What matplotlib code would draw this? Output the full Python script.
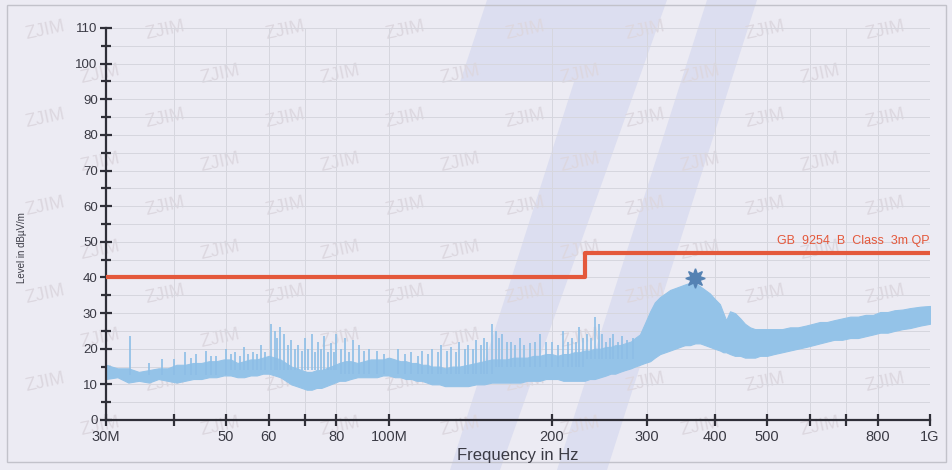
"""
EMC radiated emission scan (30 MHz - 1 GHz) with GB 9254 class B limit
"""
import numpy as np
import matplotlib
matplotlib.use("Agg")
from matplotlib import pyplot as plt
from matplotlib.patches import Polygon, Rectangle
from matplotlib.ticker import NullLocator, MultipleLocator

plt.rcParams['font.family'] = ['Liberation Sans', 'DejaVu Sans']

# scan band: lower / upper envelope of the trace [MHz, dBuV/m]
band_freq = [30, 31.5, 33, 34.5, 36, 37.5, 39, 40.5, 42, 43.5, 45, 46.5, 48, 49.5, 51, 52.5, 54,
             55.5, 57, 58.5, 60, 61.5, 63, 64.5, 66, 67.5, 69, 70.5, 72, 73.5, 75, 76.5, 78, 79.5,
             81, 83, 85, 87.5, 90, 92.5, 95, 97.5, 100, 102.5, 105, 107.5, 110, 112.5, 115, 117.5,
             120, 124, 127, 131, 135, 140, 145, 150, 155, 160, 165, 170, 175, 180, 185, 190, 195,
             200, 205, 210, 215, 220, 225, 230, 235, 240, 246, 252, 257, 262, 267, 273, 280, 285,
             291, 297, 304, 310, 317, 324, 331, 338, 345, 352, 360, 368, 376, 384, 392, 400, 409,
             415, 420, 427, 436, 446, 455, 465, 475, 485, 500, 515, 533, 551, 570, 590, 608, 626,
             645, 665, 688, 712, 736, 760, 785, 809, 835, 860, 890, 919, 960, 1000]
band_low = [11.5, 12, 10.5, 11, 10.5, 11.5, 11, 10.5, 11, 11.5, 11.5, 12, 12, 12.5, 12.5, 12, 12,
            12.5, 12.5, 13, 13, 12.5, 12, 11, 10, 9.5, 9, 8.5, 8.5, 9, 9, 9.5, 10, 10.5,
            11, 11, 11.5, 12, 12, 12, 12, 12.5, 12.5, 12, 12, 11.5, 11.5, 11, 11, 10.5,
            10, 10, 9.5, 9.5, 9.5, 9.5, 10, 10, 10.5, 10.5, 10.5, 10.5, 10.5, 11, 11, 11, 11.5,
            11.5, 11.5, 11, 11, 11, 11, 11, 11.5, 11.5, 12, 12.5, 13, 13, 13.5, 14, 14.5, 15,
            15.5, 16, 16.5, 17.5, 18.5, 19, 19.5, 20, 20.5, 21, 21, 21.5, 21.5, 21, 20.5, 20, 19.5,
            19, 19, 18.5, 18, 18, 17.5, 17.5, 17.5, 18, 18, 18.5, 19, 19.5, 20, 20.5, 21, 21.5,
            22, 22.5, 22.5, 23, 23, 23.5, 24, 24.5, 24.5, 25, 25.5, 25.8, 26.5, 27]
band_high = [15.5, 14.5, 14.5, 13.5, 14, 14.5, 14.5, 15.5, 15.5, 16, 16, 16.5, 16.5, 17, 17, 16, 16.5,
             17, 17, 17.5, 18, 17.5, 17, 16, 15, 14.5, 14, 13.5, 13.5, 14, 14, 14.5, 15, 15.5,
             16, 16.5, 16.5, 16, 16.5, 17, 17, 17, 17.5, 17, 16.5, 16.5, 16, 16, 15.5, 15.5,
             15, 15, 14.5, 15, 15, 15.5, 16, 16.5, 17, 17, 17, 17.5, 17.5, 17.5, 18, 18, 18.5,
             18.5, 18, 18.5, 18.5, 19, 19, 19.5, 19.5, 20, 20, 20.5, 20.5, 21, 21, 21.5, 22, 23,
             24, 27, 30.5, 33, 34.5, 35.5, 36.5, 37, 37.5, 38, 38.5, 38.5, 37.5, 36.5, 35.5, 34, 32.5,
             30, 28, 30.5, 30, 28.5, 27, 26, 25.5, 25.5, 25.5, 25.5, 25.5, 26, 26, 26.5, 27, 27.5,
             27.5, 28, 28.5, 29, 29, 29.5, 29.5, 30.3, 30.3, 30.8, 31, 31.4, 31.8, 32]

# narrow-band spikes above the band [MHz, dBuV/m]
spike_freq = [33.2, 36, 38, 40, 42, 43, 44, 46, 47, 48, 50, 51, 52, 53, 54, 55, 56, 57, 58, 59,
              60.5, 61.5, 62, 63, 64, 65, 66, 67, 68, 69, 70, 71, 72, 73, 74, 75, 76, 77, 78, 79,
              80, 81.5, 83, 84.5, 86, 88, 90, 92, 95, 98, 104, 107, 110, 113, 115, 118, 120, 123,
              125, 128, 130, 133, 135, 138, 140, 143, 145, 148, 150, 152, 155, 158, 160, 162, 165,
              168, 171, 175, 178, 182, 186, 190, 195, 200, 205, 210, 214, 218, 222, 225, 228, 232,
              236, 240, 245, 248, 252, 256, 260, 265, 270, 276, 283]
spike_top = [23.5, 16, 17, 17, 19, 17.5, 18.5, 19.5, 18, 18, 20, 18.5, 19, 18, 20.5, 18.5, 19, 18.5, 21, 19,
             27, 25, 23, 26, 24, 21, 22.5, 20, 21, 19.5, 23, 20, 24, 19, 22, 20, 23.5, 19, 21.5, 19,
             24, 20, 23, 19, 22.5, 21, 19.5, 20, 19.5, 18.5, 20, 18.5, 19, 18, 19.5, 18.5, 20, 19,
             21, 19.5, 20.5, 19, 22, 20, 21, 20, 22.5, 21, 23, 22, 27, 25, 23, 24, 22,
             22, 21, 23, 21, 21.5, 22, 24, 22, 22, 21, 25, 22, 23, 22, 26, 23, 24,
             23, 29, 27, 24, 22, 23, 24, 22, 23.5, 22.5, 23]
spike_base = [12.5] * 11 + [14] * 30 + [13] * 30 + [15] * 20 + [17] * 12

# maximum marker
peak_freq = [368]
peak_level = [39.8]

# limit line GB 9254 class B, 3 m, QP
limit_freq = [30, 230, 230, 1000]
limit_level = [40, 40, 47, 47]

xticks = [30, 40, 50, 60, 70, 80, 100, 200, 300, 400, 500, 600, 700, 800, 1000]
xticklabels = ["30M", "", "50", "60", "", "80", "100M", "200", "300", "400", "500", "", "", "800", "1G"]
yticks = [0, 10, 20, 30, 40, 50, 60, 70, 80, 90, 100, 110]

W, H = 953, 470


def main():
    fig = plt.figure(figsize=(W / 100, H / 100), dpi=100)
    fig.patch.set_facecolor("#ecebf3")

    # scan watermark ("7" logo + ZJIM stamps)
    seven = [(487, 0), (667, 0), (500, 470), (450, 470), (574, 82), (460, 82)]
    seven2 = [(707, 0), (757, 0), (607, 470), (557, 470)]
    for poly in (seven, seven2):
        pts = [(x / W, 1 - y / H) for x, y in poly]
        fig.add_artist(Polygon(pts, closed=True, transform=fig.transFigure,
                               facecolor="#dcdef0", edgecolor="none", zorder=-2))
    for k in range(10):
        for j in range(8):
            x = 45 + 120 * j + (k % 2) * 55
            y = 30 + 44 * k
            if x > 910:
                continue
            fig.text(x / W, 1 - y / H, "ZJIM", fontsize=13, rotation=12, color="#dcd7df",
                     ha="center", va="center", zorder=-1)
    fig.add_artist(Rectangle((7 / W, 1 - 462 / H), 939 / W, 457 / H, transform=fig.transFigure,
                             fill=False, edgecolor="#c2c2ca", linewidth=1, zorder=-1))

    ax = fig.add_axes([106 / W, 1 - 420 / H, 824 / W, 392 / H])
    ax.set_facecolor("none")
    ax.set_xscale("log")
    ax.set_xlim(30, 1000)
    ax.set_ylim(0, 110)

    ax.fill_between(band_freq, band_low, band_high, color="#94c3e8", linewidth=0.8,
                    edgecolor="#94c3e8", zorder=2)
    ax.vlines(spike_freq, spike_base, spike_top, color="#8dbee6", linewidth=1.2, zorder=2)
    ax.plot(peak_freq, peak_level, marker=(8, 1, 0), markersize=14, color="#5582b3",
            linestyle="none", zorder=3)

    ax.plot(limit_freq, limit_level, color="#e4583b", linewidth=3, zorder=4)
    ax.text(1000, 48.5, "GB  9254  B  Class  3m QP", color="#e4583b", fontsize=9,
            ha="right", va="bottom")

    # axes & grid
    ax.set_xticks(xticks, xticklabels)
    ax.xaxis.set_minor_locator(NullLocator())
    ax.set_yticks(yticks)
    ax.yaxis.set_minor_locator(MultipleLocator(5))
    ax.grid(True, which="both", color="#d6d6de", linewidth=0.7, zorder=0)
    ax.set_axisbelow(True)
    for side in ("top", "right"):
        ax.spines[side].set_visible(False)
    for side in ("left", "bottom"):
        ax.spines[side].set_color("#2f2f38")
        ax.spines[side].set_linewidth(1.6)
    ax.tick_params(axis="both", which="major", direction="inout", length=8, width=1.6,
                   color="#2f2f38", labelsize=9.5, labelcolor="#3a3a44", pad=2)
    ax.tick_params(axis="x", which="major", labelsize=10.5, pad=3)
    ax.tick_params(axis="y", which="minor", direction="inout", length=7, width=1.6, color="#2f2f38")

    ax.set_xlabel("Frequency in Hz", fontsize=12, color="#3a3a44", labelpad=3)
    fig.text(22 / W, 1 - 248 / H, "Level in dBµV/m", rotation=90, fontsize=7,
             color="#3a3a44", ha="center", va="center")

    fig.savefig("out.png", dpi=100, facecolor=fig.get_facecolor())
    return 0


if __name__ == "__main__":
    main()
